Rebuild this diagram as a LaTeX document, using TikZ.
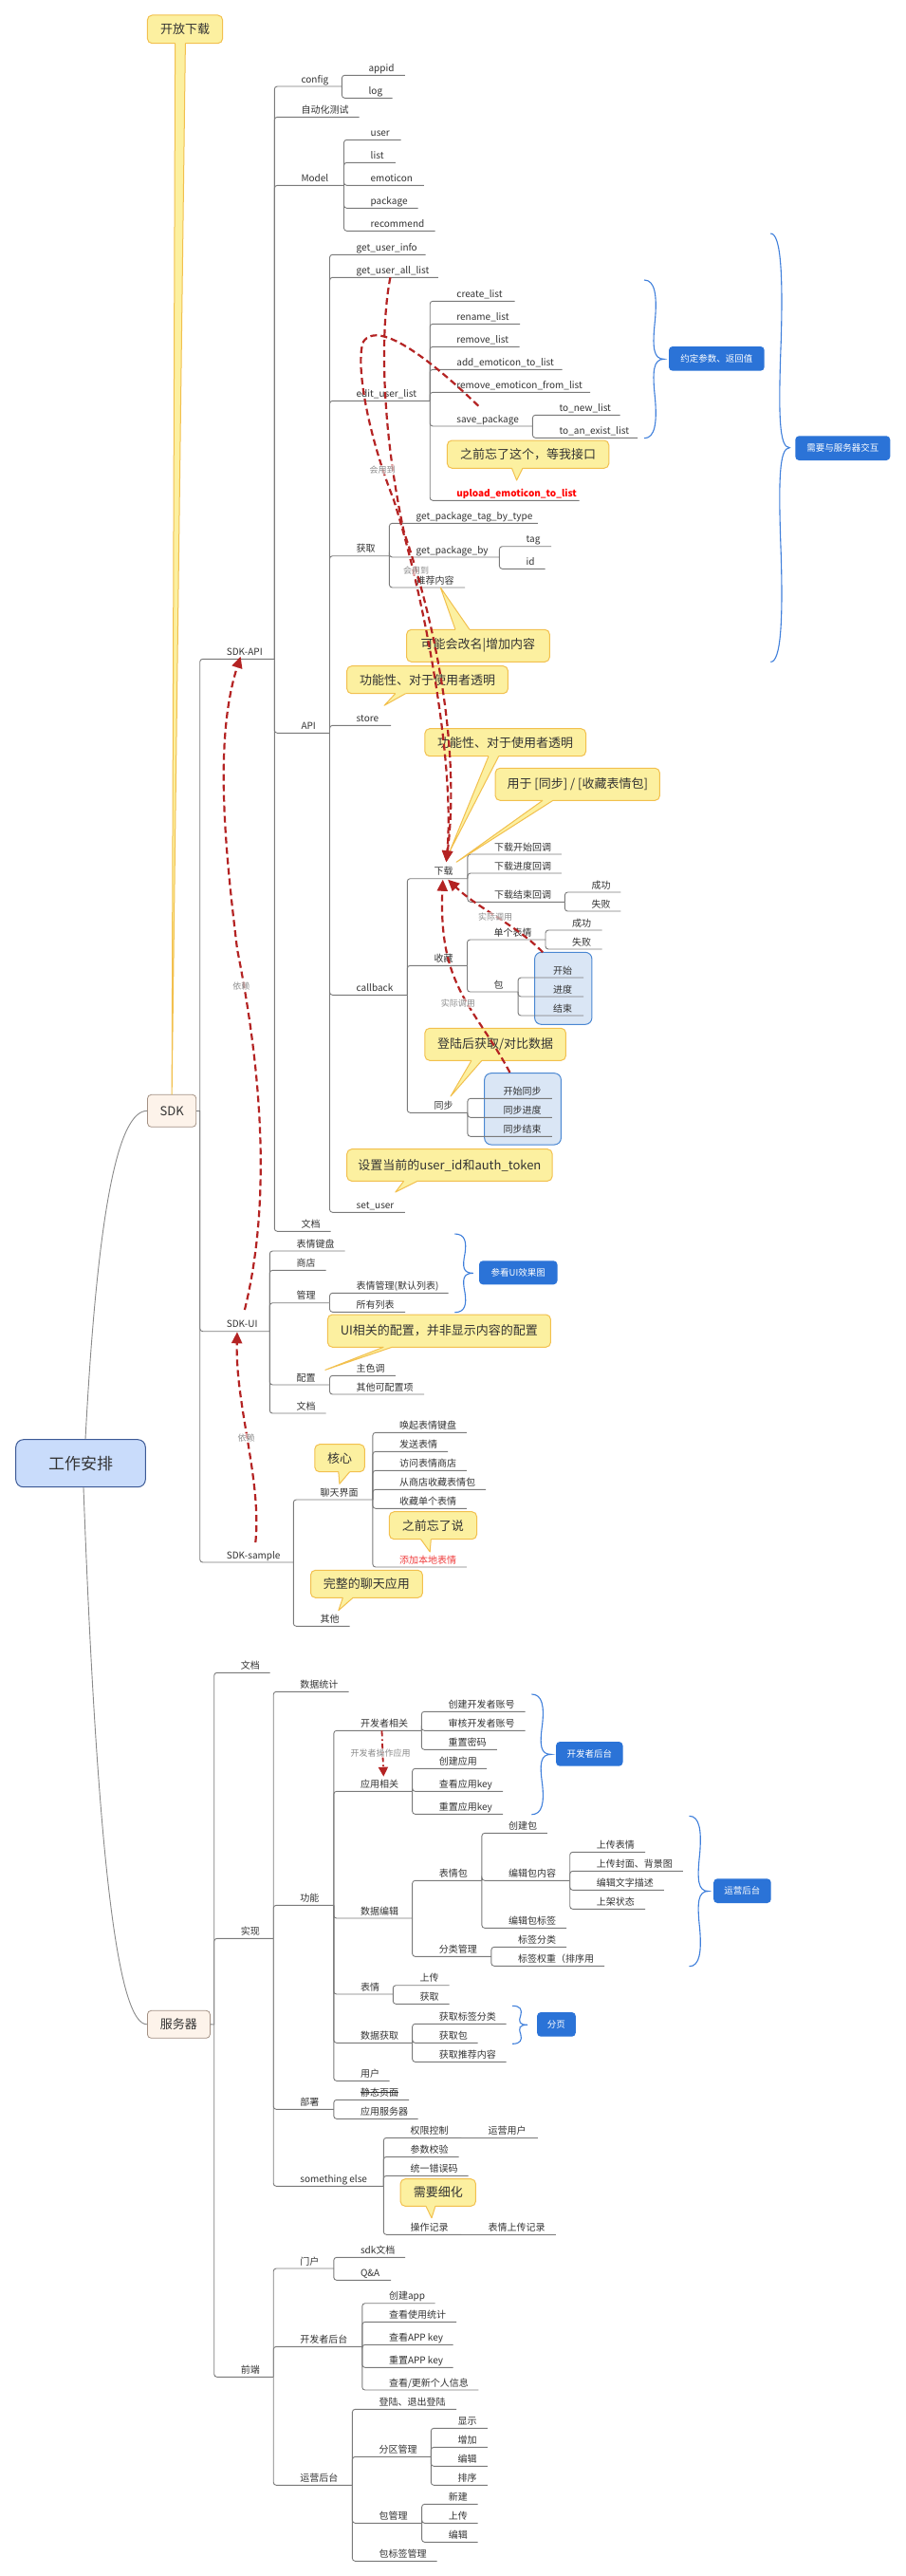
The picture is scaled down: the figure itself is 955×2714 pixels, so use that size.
\documentclass[tikz,border=0pt]{standalone}
\usepackage{fontspec}
\setmainfont{Noto Sans CJK SC}
\usetikzlibrary{arrows.meta}
\definecolor{txt}{HTML}{333333}
\definecolor{treec}{HTML}{7A7A7A}
\definecolor{callf}{HTML}{FCF0A0}
\definecolor{callb}{HTML}{F2C04E}
\definecolor{relr}{HTML}{B42323}
\definecolor{blueb}{HTML}{2B73D7}
\definecolor{bracec}{HTML}{3F7FDB}
\definecolor{hlf}{HTML}{DAE6F5}
\definecolor{hlb}{HTML}{4A87D2}
\definecolor{rootf}{HTML}{C9DCFB}
\definecolor{rootb}{HTML}{3D5A96}
\definecolor{topf}{HTML}{FDF3EA}
\definecolor{topb}{HTML}{A39184}
\definecolor{rlbl}{HTML}{8C8C8C}
\definecolor{redtxt}{HTML}{F03C3C}
\definecolor{rootln}{HTML}{8A8A8A}

\tikzset{
 lbl/.style={anchor=base west, inner sep=0pt, yshift=4pt, text=txt, font=\fontsize{10pt}{12pt}\selectfont},
 treeln/.style={draw=treec, line width=0.9pt, rounded corners=3pt},
 callbox/.style={draw=callb, fill=callf, line width=1pt, rounded corners=5pt, inner sep=0pt, text=txt, font=\fontsize{13pt}{15pt}\selectfont},
 bluebox/.style={fill=blueb, rounded corners=4pt, inner sep=0pt, text=white, font=\fontsize{9.5pt}{11pt}\selectfont},
 bracep/.style={draw=bracec, line width=1.1pt},
 hlbox/.style={draw=hlb, fill=hlf, line width=1pt, rounded corners=7pt},
 rel/.style={draw=relr, line width=2.2pt, dash pattern=on 7pt off 4pt, -{Triangle[length=12pt,width=11pt]}},
 rellbl/.style={text=rlbl, font=\fontsize{9pt}{11pt}\selectfont, fill=white, fill opacity=0.6, text opacity=1, inner sep=1pt},
 topbox/.style={draw=topb, fill=topf, line width=0.8pt, rounded corners=4pt, inner sep=0pt, text=txt, font=\fontsize{13pt}{15pt}\selectfont},
 rootcurve/.style={draw=rootln, line width=0.9pt},
}

% #1 extra text shift, #2 id, #3 parent id, #4 underline y, #5 underline end x, #6 text
\newcommand\mmnode[6][0]{%
  \coordinate (#2J) at (#5,#4);
  \path (#3J) ++({28+#1},0) coordinate (#2T);
  \node[lbl] (#2) at (#2T |- #2J) {#6};
  \draw[treeln] (#3J) |- (#2J);
}
% same-level continuation (straight line, no corner)
\newcommand\mmnodestraight[5]{%
  \coordinate (#1J) at (#4,#3);
  \path (#2J) ++(28,0) coordinate (#1T);
  \node[lbl] (#1) at (#1T |- #1J) {#5};
  \draw[draw=treec, line width=0.9pt] (#2J) -- (#1J);
}
% pointer: #1 bx1, #2 bx2, #3 edge y, #4 inner y, #5 tip name
\newcommand\mmptr[5]{%
  \fill[callf] (#1,#4) -- (#1,#3) -- (#5) -- (#2,#3) -- (#2,#4) -- cycle;
  \draw[callb, line width=1pt, line join=round] (#1,#3) -- (#5) -- (#2,#3);
}
% brace: #1 x0, #2 ytop, #3 width, #4 height
\newcommand\mmbrace[4]{%
  \begin{scope}[shift={(#1,#2)}, xscale=#3, yscale=#4]
    \draw[bracep] (0,0) .. controls (0.55,0) and (0.65,0.1) .. (0.55,0.25)
      .. controls (0.4,0.425) and (0.45,0.5) .. (1,0.5)
      .. controls (0.45,0.5) and (0.4,0.575) .. (0.55,0.75)
      .. controls (0.65,0.9) and (0.55,1) .. (0,1);
  \end{scope}}

\begin{document}
\begin{tikzpicture}[x=1pt,y=-1pt]
\useasboundingbox (0,0) rectangle (955,2714);
\fill[white] (0,0) rectangle (955,2714);

% highlight groups
\draw[hlbox] (563.6,1003.3) rectangle (623.9,1079.3);
\draw[hlbox] (510.7,1130.7) rectangle (591.4,1206);

% braces and blue boxes
\mmbrace{679}{295}{21}{166.7}
\mmbrace{812.3}{246}{20}{451.4}
\mmbrace{479.3}{1300}{19.6}{82.7}
\mmbrace{560.4}{1785}{20.5}{126.7}
\mmbrace{726.5}{1913.3}{20.2}{158.4}
\mmbrace{540}{2113.3}{16.1}{40}
\node[bluebox, minimum width=100.7pt, minimum height=25.7pt] (b1) at (755.35,377.85) {约定参数、返回值};
\node[bluebox, minimum width=100pt, minimum height=25.7pt] (b2) at (888.3,472.15) {需要与服务器交互};
\node[bluebox, minimum width=82.5pt, minimum height=25pt] (b3) at (546.25,1340.8) {参看UI效果图};
\node[bluebox, minimum width=70.4pt, minimum height=25.7pt] (b4) at (621.3,1847.85) {开发者后台};
\node[bluebox, minimum width=60.5pt, minimum height=25.7pt] (b5) at (782.45,1992.15) {运营后台};
\node[bluebox, minimum width=40.7pt, minimum height=25.7pt] (b6) at (586.45,2132.85) {分页};

% root and main branches
\node[draw=rootb, fill=rootf, line width=1pt, rounded corners=8pt, minimum width=136.6pt, minimum height=50pt, inner sep=0pt, text=txt, font=\fontsize{17pt}{19pt}\selectfont] (root) at (85,1541.7) {工作安排};
\node[topbox, minimum width=51.3pt, minimum height=34pt] (sdk) at (181.15,1170.3) {SDK};
\node[topbox, minimum width=66pt, minimum height=29pt] (srv) at (188.4,2132.8) {服务器};
\draw[rootcurve] ([xshift=5pt]root.north) .. controls (103,1270) and (125,1170.3) .. (sdk.west);
\draw[rootcurve] ([xshift=3pt]root.south) .. controls (103,1969) and (125,2133) .. (srv.west);

% 开放下载
\node[callbox, minimum width=79.2pt, minimum height=29.7pt] (kfxz) at (195,30.85) {开放下载};
\mmptr{184.6}{195.4}{45.7}{44.2}{sdk.north}

% SDK tree
\coordinate (sdkJ) at (210.7,1170.3);
\draw[treeln] (sdk.east) -- (sdkJ);
\mmnode{sa}{sdk}{694.3}{289.3}{SDK-API}
\mmnode{cfg}{sa}{91}{360.4}{config}
\mmnode{appid}{cfg}{79.3}{426.8}{appid}
\mmnode{log}{cfg}{103.3}{413.6}{log}
\mmnode{auto}{sa}{123.3}{378.6}{自动化测试}
\mmnode{model}{sa}{195.3}{362.5}{Model}
\mmnode{muser}{model}{147.3}{422.5}{user}
\mmnode{mlist}{model}{171.3}{416.8}{list}
\mmnode{memo}{model}{195.3}{446.8}{emoticon}
\mmnode{mpkg}{model}{219.3}{440.7}{package}
\mmnode{mrec}{model}{243.3}{458.6}{recommend}
\mmnode{api}{sa}{772.3}{347.5}{API}
\mmnode{gui}{api}{268.3}{448.6}{get\_user\_info}
\mmnode{gual}{api}{292.3}{461.8}{get\_user\_all\_list}
\mmnode{eul}{api}{422.3}{453.2}{edit\_user\_list}
\mmnode{cl}{eul}{317.3}{542.5}{create\_list}
\mmnode{rnl}{eul}{341.3}{548.2}{rename\_list}
\mmnode{rml}{eul}{365.3}{547.5}{remove\_list}
\mmnode{aetl}{eul}{389.3}{592.5}{add\_emoticon\_to\_list}
\mmnode{refl}{eul}{413.3}{622.1}{remove\_emoticon\_from\_list}
\mmnode{svp}{eul}{449}{561.4}{save\_package}
\mmnode{tnl}{svp}{437.3}{653.6}{to\_new\_list}
\mmnode{tael}{svp}{461.3}{672.1}{to\_an\_exist\_list}
\mmnode{uetl}{eul}{527.3}{610.7}{\color{red}\bfseries upload\_emoticon\_to\_list}
\mmnode{hq}{api}{585.7}{410.4}{获取}
\mmnode{gptt}{hq}{551.3}{566.8}{get\_package\_tag\_by\_type}
\mmnode{gpb}{hq}{587}{526.4}{get\_package\_by}
\mmnode{tag}{gpb}{575.7}{581.1}{tag}
\mmnode{pid}{gpb}{599.3}{574.6}{id}
\mmnode{tjnr}{hq}{619}{490}{推荐内容}
\mmnode{store}{api}{764.3}{412.1}{store}
\mmnode{cb}{api}{1048.3}{429.3}{callback}
\mmnode{dl}{cb}{925.7}{492.9}{下载}
\mmnode{dla}{dl}{900}{591.8}{下载开始回调}
\mmnode{dlb}{dl}{920}{591.8}{下载进度回调}
\mmnode{dlc}{dl}{950.3}{595.4}{下载结束回调}
\mmnode{dlca}{dlc}{940}{654.3}{成功}
\mmnode{dlcb}{dlc}{960}{654.3}{失败}
\mmnode{sc}{cb}{1017.3}{492.5}{收藏}
\mmnode{scd}{sc}{990}{575}{单个表情}
\mmnode{scda}{scd}{980}{634.6}{成功}
\mmnode{scdb}{scd}{1000}{634.6}{失败}
\mmnode{scb}{sc}{1045}{546.1}{包}
\mmnode[8.8]{scba}{scb}{1030}{615}{开始}
\mmnode[8.8]{scbb}{scb}{1050}{615}{进度}
\mmnode[8.8]{scbc}{scb}{1070}{615}{结束}
\mmnode{tb}{cb}{1172.3}{492.9}{同步}
\mmnode[9.5]{tba}{tb}{1157.3}{581.8}{开始同步}
\mmnode[9.5]{tbb}{tb}{1177.3}{581.8}{同步进度}
\mmnode[9.5]{tbc}{tb}{1197.3}{581.8}{同步结束}
\mmnode{su}{api}{1277.3}{426.8}{set\_user}
\mmnode{sadoc}{sa}{1297.3}{348.6}{文档}
\mmnode{sui}{sdk}{1402.7}{284.3}{SDK-UI}
\mmnode{kb}{sui}{1318}{363.6}{表情键盘}
\mmnode{shop}{sui}{1338.3}{343.6}{商店}
\mmnode{mg}{sui}{1372.7}{347.5}{管理}
\mmnode{mga}{mg}{1362.3}{472.5}{表情管理(默认列表)}
\mmnode{mgb}{mg}{1382.3}{427.1}{所有列表}
\mmnode{pz}{sui}{1459}{347.5}{配置}
\mmnode{pza}{pz}{1449.3}{416.8}{主色调}
\mmnode{pzb}{pz}{1469}{447.1}{其他可配置项}
\mmnode{uidoc}{sui}{1489}{343.6}{文档}
\mmnode{ss}{sdk}{1646}{309.3}{SDK-sample}
\mmnode{lt}{ss}{1580}{392.9}{聊天界面}
\mmnode{lta}{lt}{1509.3}{491.8}{唤起表情键盘}
\mmnode{ltb}{lt}{1529.3}{472.1}{发送表情}
\mmnode{ltc}{lt}{1549.3}{491.8}{访问表情商店}
\mmnode{ltd}{lt}{1569.3}{512.1}{从商店收藏表情包}
\mmnode{lte}{lt}{1589.3}{491.8}{收藏单个表情}
\mmnode{ltf}{lt}{1651}{491.8}{\color{redtxt}添加本地表情}
\mmnode{qt}{ss}{1713.3}{368.6}{其他}

% server tree
\coordinate (srvJ) at (225.7,2133);
\draw[treeln] (srv.east) -- (srvJ);
\mmnode{sdoc}{srv}{1762.3}{284.6}{文档}
\mmnode{sx}{srv}{2042.3}{288.2}{实现}
\mmnode{sjtj}{sx}{1782.3}{367.5}{数据统计}
\mmnode{gn}{sx}{2007.3}{351.8}{功能}
\mmnode{kfz}{gn}{1823.3}{444.3}{开发者相关}
\mmnode{kfza}{kfz}{1803.3}{553.6}{创建开发者账号}
\mmnode{kfzb}{kfz}{1823.3}{553.6}{审核开发者账号}
\mmnode{kfzc}{kfz}{1843.3}{523.9}{重置密码}
\mmnode{yy}{gn}{1887.3}{434.6}{应用相关}
\mmnode{yya}{yy}{1863.3}{513.2}{创建应用}
\mmnode{yyb}{yy}{1887.3}{530}{查看应用key}
\mmnode{yyc}{yy}{1911.3}{530}{重置应用key}
\mmnode{sjbj}{gn}{2021}{434.6}{数据编辑}
\mmnode{bqb}{sjbj}{1981.3}{507.9}{表情包}
\mmnode{cjb}{bqb}{1931.3}{576.8}{创建包}
\mmnode{bjnr}{bqb}{1981.3}{600.7}{编辑包内容}
\mmnode{bja}{bjnr}{1951.3}{680}{上传表情}
\mmnode{bjb}{bjnr}{1971.3}{719.9}{上传封面、背景图}
\mmnode{bjc}{bjnr}{1991.3}{699.8}{编辑文字描述}
\mmnode{bjd}{bjnr}{2011.3}{680}{上架状态}
\mmnode{bjbq}{bqb}{2031.3}{597.1}{编辑包标签}
\mmnode{flgl}{sjbj}{2061.3}{517.9}{分类管理}
\mmnode{fla}{flgl}{2051.3}{597.1}{标签分类}
\mmnode{flb}{flgl}{2071.3}{637.1}{标签权重（排序用}
\mmnode{bq}{gn}{2101}{414.3}{表情}
\mmnode{bqa}{bq}{2091.7}{473.5}{上传}
\mmnode{bqbb}{bq}{2111.3}{473.5}{获取}
\mmnode{sjhq}{gn}{2152.3}{434.6}{数据获取}
\mmnode{hqa}{sjhq}{2132.3}{533.6}{获取标签分类}
\mmnode{hqb}{sjhq}{2152.3}{503.6}{获取包}
\mmnode{hqc}{sjhq}{2172.3}{533.6}{获取推荐内容}
\mmnode{yh}{gn}{2192.3}{410.7}{用户}
\mmnode{bs}{sx}{2222.3}{351.8}{部署}
\mmnode{jt}{bs}{2212.3}{431.1}{静态页面}
\mmnode{yyfw}{bs}{2232.3}{440.7}{应用服务器}
\mmnode{se}{sx}{2303.3}{404.3}{something else}
\mmnode{qx}{se}{2252.3}{486.4}{权限控制}
\mmnodestraight{qxa}{qx}{2252.3}{566.8}{运营用户}
\mmnode{csjy}{se}{2272.3}{483.6}{参数校验}
\mmnode{cwm}{se}{2292.3}{493.6}{统一错误码}
\mmnode{czjl}{se}{2354.3}{486.4}{操作记录}
\mmnodestraight{czjla}{czjl}{2354.3}{586.4}{表情上传记录}
\mmnode{qd}{srv}{2504.3}{288.2}{前端}
\mmnode{mh}{qd}{2390}{351.8}{门户}
\mmnode{mha}{mh}{2378.3}{427.1}{sdk文档}
\mmnode{mhb}{mh}{2402.3}{412.1}{Q\&A}
\mmnode{kfht}{qd}{2472.3}{381.8}{开发者后台}
\mmnode{kfa}{kfht}{2426.7}{458.6}{创建app}
\mmnode{kfb}{kfht}{2446.3}{481.1}{查看使用统计}
\mmnode{kfc}{kfht}{2470.3}{477.5}{查看APP key}
\mmnode{kfd}{kfht}{2494.3}{477.5}{重置APP key}
\mmnode{kfe}{kfht}{2518}{504.3}{查看/更新个人信息}
\mmnode{yyht}{qd}{2618.3}{371.4}{运营后台}
\mmnode{dltc}{yyht}{2538.3}{481.1}{登陆、退出登陆}
\mmnode{fq}{yyht}{2588.3}{454.3}{分区管理}
\mmnode{fqa}{fq}{2558.3}{513.9}{显示}
\mmnode{fqb}{fq}{2578.3}{513.9}{增加}
\mmnode{fqc}{fq}{2598.3}{513.9}{编辑}
\mmnode{fqd}{fq}{2618.3}{513.9}{排序}
\mmnode{bgl}{yyht}{2658.3}{444.6}{包管理}
\mmnode{bga}{bgl}{2638.3}{503.6}{新建}
\mmnode{bgb}{bgl}{2658.3}{503.6}{上传}
\mmnode{bgc}{bgl}{2678.3}{503.6}{编辑}
\mmnode{bqgl}{yyht}{2698.3}{460.7}{包标签管理}
\draw[txt, line width=0.7pt] ([yshift=3.6pt]jt.base west) -- ([yshift=3.6pt]jt.base east);

% callouts
\node[callbox, minimum width=170.4pt, minimum height=29.3pt] (c2) at (556.6,478.65) {之前忘了这个，等我接口};
\coordinate (c2t) at (544.6,506);
\mmptr{539.5}{551}{493.3}{491.8}{c2t}
\node[callbox, minimum width=150.7pt, minimum height=34pt] (c3) at (503.95,680.3) {可能会改名|增加内容};
\coordinate (c3t) at (464.3,619);
\mmptr{480}{495}{663.3}{664.8}{c3t}
\node[callbox, minimum width=169.7pt, minimum height=29pt] (c4) at (450.55,716.2) {功能性、对于使用者透明};
\coordinate (c4t) at (405,743.3);
\mmptr{416.8}{427.5}{730.7}{729.2}{c4t}
\node[callbox, minimum width=169.6pt, minimum height=29pt] (c5) at (532.7,782.2) {功能性、对于使用者透明};
\coordinate (c5t) at (473.9,897.3);
\mmptr{515}{525.7}{796.7}{795.2}{c5t}
\node[callbox, minimum width=173.3pt, minimum height=34pt] (c6) at (608.75,826.3) {用于 [同步] / [收藏表情包]};
\coordinate (c6t) at (481.1,908.3);
\mmptr{572.1}{582.9}{843.3}{841.8}{c6t}
\node[callbox, minimum width=148.5pt, minimum height=34pt] (c7) at (522.15,1100.3) {登陆后获取/对比数据};
\coordinate (c7t) at (475,1155);
\mmptr{497}{507.9}{1117.3}{1115.8}{c7t}
\node[callbox, minimum width=216.4pt, minimum height=33.6pt] (c8) at (473.9,1227.5) {设置当前的user\_id和auth\_token};
\coordinate (c8t) at (416.8,1256);
\mmptr{425.7}{440}{1244.3}{1242.8}{c8t}
\node[callbox, minimum width=235pt, minimum height=34.3pt] (c9) at (462.9,1402.15) {UI相关的配置，并非显示内容的配置};
\coordinate (c9t) at (342.9,1443.3);
\mmptr{404.3}{413.2}{1419.3}{1417.8}{c9t}
\node[callbox, minimum width=52.5pt, minimum height=29pt] (c10) at (358.05,1536.2) {核心};
\coordinate (c10t) at (357.9,1563.3);
\mmptr{356.8}{368.6}{1550.7}{1549.2}{c10t}
\node[callbox, minimum width=92.1pt, minimum height=29pt] (c11) at (456.45,1607.2) {之前忘了说};
\coordinate (c11t) at (453.2,1635);
\mmptr{443.6}{454.3}{1621.7}{1620.2}{c11t}
\node[callbox, minimum width=117.9pt, minimum height=29pt] (c12) at (386.45,1668.8) {完整的聊天应用};
\coordinate (c12t) at (356.8,1696.7);
\mmptr{361.4}{372.1}{1683.3}{1681.8}{c12t}
\node[callbox, minimum width=79.3pt, minimum height=28.6pt] (c13) at (461.75,2310) {需要细化};
\coordinate (c13t) at (455,2336.7);
\mmptr{448.9}{458.9}{2324.3}{2322.8}{c13t}

% relationships
\coordinate (r1a) at (411.4,292.3);
\coordinate (r1b) at (470.4,908.3);
\coordinate (r2a) at (504.3,427.7);
\coordinate (r3a) at (572.1,1003.3);
\coordinate (r3b) at (472.1,926.7);
\coordinate (r4a) at (537.5,1130);
\coordinate (r4b) at (466.8,926.7);
\coordinate (r5a) at (257.9,1380);
\coordinate (r5b) at (253.6,691.7);
\coordinate (r6a) at (269.3,1625);
\coordinate (r6b) at (250,1403.3);
\coordinate (r7a) at (402.5,1823.3);
\coordinate (r7b) at (404.3,1871.7);
\draw[rel] (r1a) .. controls (402,340) and (400,440) .. (425.7,560) .. controls (460,660) and (485,790) .. (r1b);
\draw[rel] (r2a) .. controls (460,385) and (400,335) .. (383,360) .. controls (375,380) and (385,450) .. (415,526.7) .. controls (445,620) and (480,800) .. (r1b);
\draw[rel] (r3a) .. controls (545,975) and (505,958) .. (r3b);
\draw[rel] (r4a) .. controls (500,1060) and (462,1040) .. (r4b);
\draw[rel] (r5a) .. controls (290,1250) and (270,1100) .. (250,1000) .. controls (238,900) and (225,780) .. (r5b);
\draw[rel] (r6a) .. controls (276,1560) and (248,1480) .. (r6b);
\draw[rel, line width=1.8pt, dash pattern=on 6pt off 3pt on 1.5pt off 3pt, -{Triangle[length=10pt,width=10pt]}] (r7a) -- (r7b);
\node[rellbl] (l1) at (403,495) {会用到};
\node[rellbl] (l2) at (438.6,601) {会用到};
\node[rellbl] (l3) at (522.1,966) {实际调用};
\node[rellbl] (l4) at (482.9,1056.7) {实际调用};
\node[rellbl] (l5) at (254.3,1039) {依赖};
\node[rellbl] (l6) at (259.6,1515) {依赖};
\node[rellbl] (l7) at (401,1846.7) {开发者操作应用};
\end{tikzpicture}
\end{document}
